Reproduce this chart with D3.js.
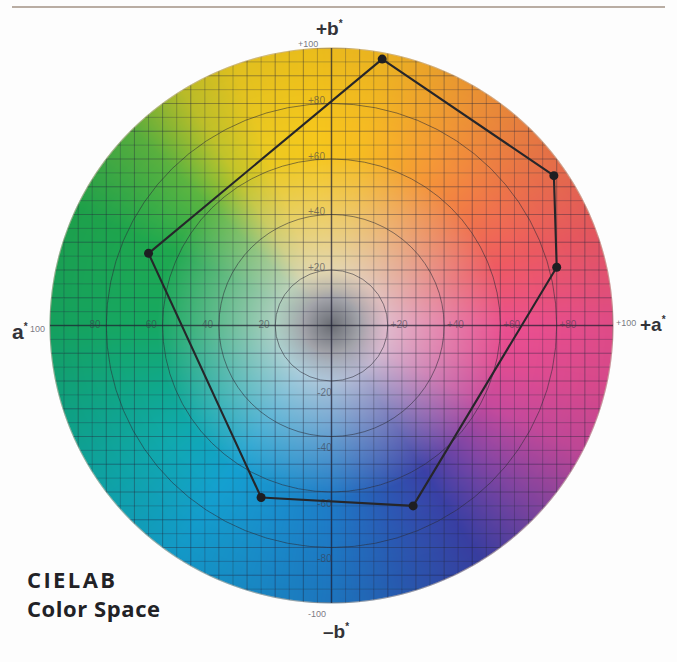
<!DOCTYPE html>
<html>
<head>
<meta charset="utf-8">
<script src="https://cdn.jsdelivr.net/npm/d3@7"></script>
<style>
  html, body { margin: 0; padding: 0; background: #fdfdfd; }
  svg { display: block; }
</style>
</head>
<body>
<div id="chart"></div>
<script>
// ---- data ----
const pointA = [18, 79, 80, 29, -25, -65];   // a* values of polygon vertices
const pointB = [96, 54, 21, -65, -62, 26];   // b* values of polygon vertices
const ringValues = [20, 40, 60, 80];
const tickLabelsPosA = ["+20", "+40", "+60", "+80"];
const tickLabelsNegA = ["20", "40", "60", "80"];
const tickLabelsPosB = ["+20", "+40", "+60", "+80"];
const tickLabelsNegB = ["-20", "-40", "-60", "-80"];
const hueAngles = [0, 20, 40, 60, 80, 95, 110, 122, 135, 155, 180, 200, 216, 236, 255, 270, 285, 302, 318, 333, 347, 360];
const hueColors = ["#ea4f8e", "#ee5a62", "#f07848", "#f59a35", "#f6bb22", "#f6c71c", "#ecc920", "#c2c42a", "#5cb540", "#1fa84e", "#16a862", "#10a88c", "#10a9ae", "#14a0d0", "#1a8ccc", "#1e7ac6", "#2a5cb6", "#3a40a6", "#8446a4", "#c64a9c", "#e04c92", "#ea4f8e"];
const titleLines = ["CIELAB", "Color Space"];

// ---- layout ----
const W = 677, H = 662;
const x = d3.scaleLinear().domain([-100, 100]).range([50, 613]);
const y = d3.scaleLinear().domain([-100, 100]).range([603, 48]);
const cx = x(0), cy = y(0), rx = x(100) - x(0), ry = y(0) - y(100);

const svg = d3.select("#chart").append("svg")
  .attr("width", W).attr("height", H)
  .style("font-family", "'Liberation Sans', Arial, sans-serif");

svg.append("rect").attr("width", W).attr("height", H).attr("fill", "#fdfdfd");

// top separator rule
svg.append("line").attr("x1", 12).attr("x2", 665).attr("y1", 7).attr("y2", 7)
  .attr("stroke", "#b9ada3").attr("stroke-width", 2);

// ---- colour disc rendered on a canvas via scales ----
const hue = d3.scaleLinear().domain(hueAngles).range(hueColors).interpolate(d3.interpolateRgb);
const neutral = d3.scaleLinear().domain([0, 0.06, 0.2]).range(["#6a6d74", "#8a8c93", "#dddbdf"]).clamp(true);
const x0 = Math.floor(x(-100)) - 2, y0 = Math.floor(y(100)) - 2;
const cw = Math.ceil(x(100)) - x0 + 4, ch = Math.ceil(y(-100)) - y0 + 4;
const canvas = document.createElement("canvas");
canvas.width = cw; canvas.height = ch;
const ctx = canvas.getContext("2d");
const img = ctx.createImageData(cw, ch);
for (let j = 0; j < ch; j++) {
  for (let i = 0; i < cw; i++) {
    const px = x0 + i + 0.5, py = y0 + j + 0.5;
    const a = x.invert(px), b = y.invert(py);
    const r = Math.sqrt(a * a + b * b) / 100;
    const edge = (1 - r) * 280;
    if (edge < -1) continue;
    let ang = Math.atan2(b, a) * 180 / Math.PI; if (ang < 0) ang += 360;
    const base = d3.rgb(hue(ang));
    const n = d3.rgb(neutral(r));
    let w = Math.max(0, Math.min(1, (r - 0.1) / 0.52));
    w = Math.pow(w, 0.85);
    const k = 1 - 0.05 * Math.max(0, r - 0.7) / 0.3;
    const idx = (j * cw + i) * 4;
    img.data[idx] = (n.r * (1 - w) + base.r * w) * k;
    img.data[idx + 1] = (n.g * (1 - w) + base.g * w) * k;
    img.data[idx + 2] = (n.b * (1 - w) + base.b * w) * k;
    img.data[idx + 3] = 255 * Math.max(0, Math.min(1, (edge + 1) / 2));
  }
}
ctx.putImageData(img, 0, 0);

const defs = svg.append("defs");
defs.append("clipPath").attr("id", "disc")
  .append("ellipse").attr("cx", cx).attr("cy", cy).attr("rx", rx).attr("ry", ry);
const blur = defs.append("filter").attr("id", "soft");
blur.append("feGaussianBlur").attr("stdDeviation", 0.35);

svg.append("image")
  .attr("x", x0).attr("y", y0).attr("width", cw).attr("height", ch)
  .attr("href", canvas.toDataURL());

svg.append("ellipse").attr("cx", cx).attr("cy", cy).attr("rx", rx).attr("ry", ry)
  .attr("fill", "none").attr("stroke", "rgba(150,115,80,0.35)").attr("stroke-width", 1.2);

// ---- grid ----
const gridG = svg.append("g").attr("clip-path", "url(#disc)").attr("filter", "url(#soft)");
const gridVals = d3.range(-100, 101, 5).filter(v => v !== 0);
gridG.selectAll("line.v").data(gridVals).join("line")
  .attr("x1", d => x(d)).attr("x2", d => x(d)).attr("y1", y(100)).attr("y2", y(-100))
  .attr("stroke", "#23263a").attr("stroke-opacity", d => d % 10 === 0 ? 0.4 : 0.28).attr("stroke-width", 1);
gridG.selectAll("line.h").data(gridVals).join("line")
  .attr("y1", d => y(d)).attr("y2", d => y(d)).attr("x1", x(-100)).attr("x2", x(100))
  .attr("stroke", "#23263a").attr("stroke-opacity", d => d % 10 === 0 ? 0.4 : 0.28).attr("stroke-width", 1);

// rings
gridG.selectAll("ellipse.ring").data(ringValues).join("ellipse")
  .attr("cx", cx).attr("cy", cy)
  .attr("rx", d => x(d) - x(0)).attr("ry", d => y(0) - y(d))
  .attr("fill", "none").attr("stroke", "#2a2a35").attr("stroke-opacity", 0.55).attr("stroke-width", 1);

// main axes
gridG.append("line").attr("x1", x(-100)).attr("x2", x(100)).attr("y1", cy).attr("y2", cy)
  .attr("stroke", "#1e2030").attr("stroke-opacity", 0.7).attr("stroke-width", 1.4);
gridG.append("line").attr("x1", cx).attr("x2", cx).attr("y1", y(100)).attr("y2", y(-100))
  .attr("stroke", "#1e2030").attr("stroke-opacity", 0.7).attr("stroke-width", 1.4);

// ---- tick labels on axes ----
const tickStyle = sel => sel.attr("font-size", 10).attr("fill", "#3a3a48").attr("fill-opacity", 0.6)
  .attr("text-anchor", "middle").attr("dominant-baseline", "central");
svg.append("g").selectAll("text").data(ringValues).join("text")
  .attr("x", d => x(-(d + 4))).attr("y", cy - 1).text((d, i) => tickLabelsNegA[i]).call(tickStyle);
svg.append("g").selectAll("text").data(ringValues).join("text")
  .attr("x", d => x(d + 4)).attr("y", cy - 1).text((d, i) => tickLabelsPosA[i]).call(tickStyle);
svg.append("g").selectAll("text").data(ringValues).join("text")
  .attr("x", cx - 15).attr("y", d => y(d + 1)).text((d, i) => tickLabelsPosB[i]).call(tickStyle);
svg.append("g").selectAll("text").data(ringValues).join("text")
  .attr("x", cx - 7).attr("y", d => y(-(d + 4))).text((d, i) => tickLabelsNegB[i]).call(tickStyle);

// ---- axis end labels ----
const small = sel => sel.attr("font-size", 9).attr("fill", "#4a4a55").attr("fill-opacity", 0.75);
const big = sel => sel.attr("font-size", 19).attr("font-weight", "bold").attr("fill", "#333338");

// top
svg.append("text").attr("x", 298).attr("y", 47).text("+100").call(small);
let t = svg.append("text").attr("x", 316).attr("y", 35).call(big);
t.append("tspan").text("+b");
t.append("tspan").attr("dy", -8).attr("font-size", 10).text("*");
// bottom
svg.append("text").attr("x", 308).attr("y", 617).text("-100").call(small);
t = svg.append("text").attr("x", 323).attr("y", 638).call(big);
t.append("tspan").text("\u2013b");
t.append("tspan").attr("dy", -8).attr("font-size", 10).text("*");
// left
t = svg.append("text").attr("x", 12).attr("y", 339).call(big).attr("font-size", 21);
t.append("tspan").text("a");
t.append("tspan").attr("dy", -9).attr("font-size", 10).text("*");
svg.append("text").attr("x", 30).attr("y", 332).text("100").call(small);
// right
svg.append("text").attr("x", 616).attr("y", 326).text("+100").call(small);
t = svg.append("text").attr("x", 640).attr("y", 331).call(big);
t.append("tspan").text("+a");
t.append("tspan").attr("dy", -8).attr("font-size", 10).text("*");

// ---- polygon ----
const pts = pointA.map((a, i) => [x(a), y(pointB[i])]);
svg.append("path")
  .attr("d", d3.line().curve(d3.curveLinearClosed)(pts))
  .attr("fill", "none").attr("stroke", "#26262a").attr("stroke-width", 2.1).attr("stroke-linejoin", "round");
svg.append("g").selectAll("circle").data(pts).join("circle")
  .attr("cx", d => d[0]).attr("cy", d => d[1]).attr("r", 4.5).attr("fill", "#1e1e22");

// ---- title ----
const titleWidths = [88, 133];
svg.append("g").selectAll("text").data(titleLines).join("text")
  .attr("x", 27).attr("y", (d, i) => 588 + i * 29)
  .attr("font-family", "'Open Sans', 'Noto Sans', sans-serif")
  .attr("font-weight", 700).attr("font-size", 22).attr("fill", "#222226")
  .attr("textLength", (d, i) => titleWidths[i]).attr("lengthAdjust", "spacing")
  .text(d => d);
</script>
</body>
</html>
